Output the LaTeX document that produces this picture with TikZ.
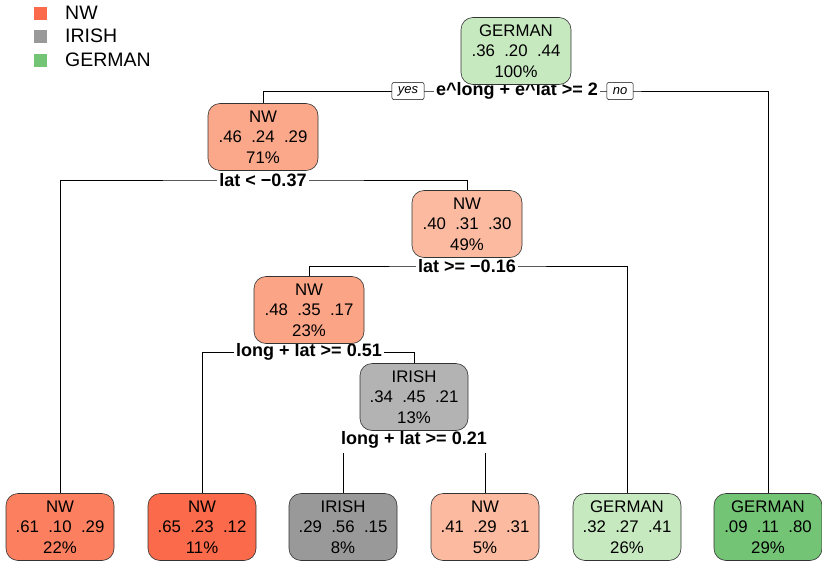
\documentclass[tikz,border=0pt]{standalone}
\usepackage{fontspec}
\setmainfont{Liberation Sans}
\usetikzlibrary{backgrounds}
\definecolor{cRoot}{HTML}{C7E9C0}
\definecolor{cNWa}{HTML}{FBA88A}
\definecolor{cNWb}{HTML}{FCBBA1}
\definecolor{cNWc}{HTML}{FCA486}
\definecolor{cIRa}{HTML}{B3B3B3}
\definecolor{cNWd}{HTML}{FC8060}
\definecolor{cNWe}{HTML}{FB6A4A}
\definecolor{cIRb}{HTML}{999999}
\definecolor{cGa}{HTML}{C7E9C0}
\definecolor{cGb}{HTML}{74C476}
\definecolor{legNW}{HTML}{FC6A4C}
\definecolor{legIR}{HTML}{999999}
\definecolor{legG}{HTML}{74C476}
\begin{document}
\begin{tikzpicture}[x=1pt,y=-1pt,
  box/.style={draw=black!80, rounded corners=12pt, minimum width=108pt, minimum height=67pt,
    align=center, inner sep=0pt, line width=0.6pt, font=\fontsize{16.8}{20.5}\selectfont},
  split/.style={fill=white, inner xsep=2pt, inner ysep=0.5pt, font=\bfseries\fontsize{18}{18}\selectfont},
  yn/.style={draw, fill=white, rounded corners=2pt, line width=0.5pt, inner xsep=6pt, inner ysep=2pt,
    minimum height=17pt, font=\itshape\fontsize{13}{13}\selectfont},
  leg/.style={minimum size=13pt, inner sep=0pt},
  legtxt/.style={anchor=west, inner sep=0pt, font=\fontsize{19.5}{19.5}\selectfont},
  conn/.style={draw=black, line width=0.5pt}
]
\useasboundingbox (0,0) rectangle (822,565);

% legend
\node[leg, fill=legNW] (lgNW) at (40,13) {};
\node[leg, fill=legIR] (lgIR) at (40,36) {};
\node[leg, fill=legG] (lgG) at (40,60) {};
\node[legtxt] (tNW) at (65,13) {NW};
\node[legtxt] (tIR) at (65,36) {IRISH};
\node[legtxt] (tG) at (65,60) {GERMAN};

% split labels
\node[split] (s0) at (517,91) {e\^{}long + e\^{}lat >= 2};
\node[yn] (yes) at (408,91) {yes};
\node[yn] (no) at (620,91) {no};
\node[split] (s71) at (263,180) {lat < −0.37};
\node[split] (s49) at (467,266) {lat >= −0.16};
\node[split] (s23) at (309,352) {long + lat >= 0.51};
\node[split, minimum height=26pt] (s13) at (414,440) {long + lat >= 0.21};

% boxes
\node[box, fill=cRoot, minimum width=110pt] (root) at (516,51) {GERMAN\\.36\ \ .20\ \ .44\\100\%};
\node[box, fill=cNWa, minimum width=110pt] (n71) at (263,137) {NW\\.46\ \ .24\ \ .29\\71\%};
\node[box, fill=cNWb, minimum width=110pt] (n49) at (467,224) {NW\\.40\ \ .31\ \ .30\\49\%};
\node[box, fill=cNWc, minimum width=110pt] (n23) at (309,310) {NW\\.48\ \ .35\ \ .17\\23\%};
\node[box, fill=cIRa] (n13) at (414,397) {IRISH\\.34\ \ .45\ \ .21\\13\%};
\node[box, fill=cNWd] (l22) at (60,527) {NW\\.61\ \ .10\ \ .29\\22\%};
\node[box, fill=cNWe] (l11) at (202,527) {NW\\.65\ \ .23\ \ .12\\11\%};
\node[box, fill=cIRb] (l8) at (343,527) {IRISH\\.29\ \ .56\ \ .15\\8\%};
\node[box, fill=cNWb] (l5) at (485,527) {NW\\.41\ \ .29\ \ .31\\5\%};
\node[box, fill=cGa] (l26) at (627,527) {GERMAN\\.32\ \ .27\ \ .41\\26\%};
\node[box, fill=cGb] (l29) at (768,527) {GERMAN\\.09\ \ .11\ \ .80\\29\%};

% connectors
\begin{scope}[on background layer]
\draw[conn] (n71.north) |- (s0.center) -| (l29.north);
\draw[conn] (l22.north) |- (s71.center) -| (n49.north);
\draw[conn] (n23.north) |- (s49.center) -| (l26.north);
\draw[conn] (l11.north) |- (s23.center) -| (n13.north);
\draw[conn] (l8.north) |- (s13.center) -| (l5.north);
\end{scope}
\end{tikzpicture}
\end{document}
